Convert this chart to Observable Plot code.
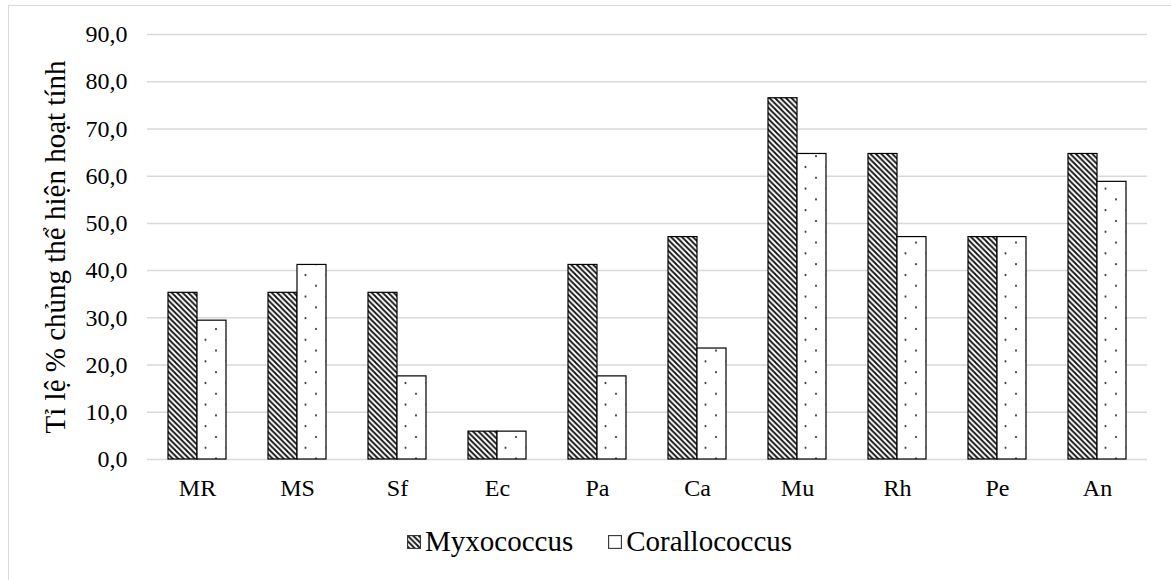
<!DOCTYPE html>
<html>
<head>
<meta charset="utf-8">
<script src="https://cdn.jsdelivr.net/npm/d3@7"></script>
<script src="https://cdn.jsdelivr.net/npm/@observablehq/plot@0.6"></script>
<style>
html,body{margin:0;padding:0;background:#fff;overflow:hidden;width:1171px;height:580px;font-family:"Liberation Serif","Times New Roman",serif;}
#frame{position:absolute;left:8px;top:5px;width:1300px;height:800px;border:1.5px solid #d9d9d9;box-sizing:border-box;}
#chart{position:absolute;left:0;top:0;}
#legend{position:absolute;left:407px;top:525px;display:flex;align-items:center;font-size:29px;color:#000;white-space:nowrap;}
#legend .item{display:flex;align-items:center;}
#legend .item + .item{margin-left:35px;}
#legend svg{margin-right:4px;}
</style>
</head>
<body>
<svg width="0" height="0" style="position:absolute">
  <defs>
    <pattern id="pat-myxo" patternUnits="userSpaceOnUse" width="5.5" height="5.5">
      <rect width="5.5" height="5.5" fill="#fff"/>
      <path d="M-1.5,-1.5L7,7M-4.25,1.25L1.25,6.75M4.25,-1.25L6.75,1.25" stroke="#111" stroke-width="1.8"/>
    </pattern>
    <pattern id="pat-coral" patternUnits="userSpaceOnUse" width="21" height="21.6">
      <rect width="21" height="21.6" fill="#fff"/>
      <circle cx="5" cy="5" r="1.1" fill="#333"/>
      <circle cx="15.5" cy="15.8" r="1.1" fill="#333"/>
    </pattern>
  </defs>
</svg>
<div id="frame"></div>
<div id="chart"></div>
<div id="legend"></div>
<script>
const categories = ["MR", "MS", "Sf", "Ec", "Pa", "Ca", "Mu", "Rh", "Pe", "An"];
const seriesNames = ["Myxococcus", "Corallococcus"];
const myxococcusValues = [35.3, 35.3, 35.3, 5.9, 41.2, 47.1, 76.5, 64.7, 47.1, 64.7];
const corallococcusValues = [29.4, 41.2, 17.6, 5.9, 17.6, 23.5, 64.7, 47.1, 47.1, 58.8];
const yTicks = [0, 10, 20, 30, 40, 50, 60, 70, 80, 90];
const yLabel = "Tỉ lệ % chủng thể hiện hoạt tính";
const seriesFills = ["url(#pat-myxo)", "url(#pat-coral)"];

const rows = categories.flatMap((c, i) => [
  {cat: c, series: seriesNames[0], value: myxococcusValues[i]},
  {cat: c, series: seriesNames[1], value: corallococcusValues[i]}
]);

const W = 1171, ML = 146, MR = 23, PAD_IN = 0.42, PAD_OUT = 0.21;
const step = (W - ML - MR) / (categories.length - PAD_IN + 2 * PAD_OUT);
const gapHalf = step * PAD_IN / 2; // half the space between groups
const outer = step * PAD_OUT;      // y axis attaches to the first facet

const chart = Plot.plot({
  width: W,
  height: 500,
  marginLeft: ML,
  marginRight: MR,
  marginTop: 34,
  marginBottom: 41,
  style: {fontFamily: "'Liberation Serif','Times New Roman',serif", fontSize: "24px", color: "#000", background: "transparent", overflow: "visible"},
  fx: {domain: categories, paddingInner: PAD_IN, paddingOuter: PAD_OUT, label: null, axis: "bottom", tickSize: 0, tickPadding: 19},
  x: {domain: seriesNames, padding: 0, axis: null},
  y: {domain: [0, 90], ticks: yTicks, tickFormat: d => d.toFixed(1).replace(".", ","), label: yLabel, labelAnchor: "center", labelOffset: 103 + outer, labelArrow: "none", tickSize: 0, tickPadding: 20 + outer},
  color: {domain: seriesNames, range: seriesFills, legend: false},
  marks: [
    Plot.ruleY(yTicks, {stroke: "#d9d9d9", strokeWidth: 1.5, insetLeft: -gapHalf, insetRight: -gapHalf}),
    Plot.barY(rows, {fx: "cat", x: "series", y: "value", fill: "series", stroke: "#000", strokeWidth: 1.2, inset: 0})
  ]
});
document.getElementById("chart").appendChild(chart);

const svg = d3.select(chart);
svg.selectAll('g[aria-label="y-axis label"] text, g[aria-label="y-axis label"]').style("font-size", "29px");

// legend
const legend = d3.select("#legend");
seriesNames.forEach((name, i) => {
  const item = legend.append("div").attr("class", "item");
  const sw = item.append("svg").attr("width", 14).attr("height", 14);
  sw.append("rect").attr("x", 0.6).attr("y", 0.6).attr("width", 12.8).attr("height", 12.8)
    .attr("fill", i === 0 ? seriesFills[0] : "#fff").attr("stroke", "#333").attr("stroke-width", 1.1);
  item.append("span").text(name);
});
</script>
</body>
</html>
